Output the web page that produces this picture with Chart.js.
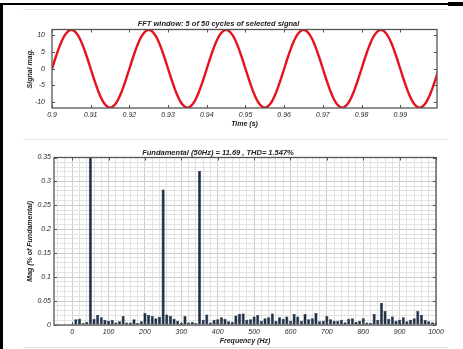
<!DOCTYPE html>
<html>
<head>
<meta charset="utf-8">
<script src="https://cdn.jsdelivr.net/npm/chart.js@4.4.1/dist/chart.umd.min.js"></script>
<style>
  html, body { margin: 0; padding: 0; background: #fff; }
  body { width: 463px; height: 349px; position: relative; overflow: hidden; }
  canvas { position: absolute; left: 0; }
  #signal { top: 0; }
  #spectrum { top: 135px; }
  .rule { position: absolute; }
</style>
</head>
<body>
<canvas id="signal" width="463" height="135"></canvas>
<canvas id="spectrum" width="463" height="214"></canvas>
<div class="rule" style="left:0;top:3px;width:3px;height:346px;background:#000"></div>
<div class="rule" style="left:0;top:3px;width:448px;height:2px;background:#000"></div>
<div class="rule" style="left:448px;top:2px;width:15px;height:4px;background:#000"></div>
<div class="rule" style="left:23px;top:9px;width:425px;height:1px;background:#e2e2e2"></div>
<div class="rule" style="left:23px;top:139px;width:425px;height:1px;background:#e6e6e6"></div>
<div class="rule" style="left:23px;top:347px;width:425px;height:1px;background:#e2e2e2"></div>
<script>
// Top plot: 5 cycles of the 50 Hz signal (sampled every 1 ms)
const timeSec = [
  0.900, 0.901, 0.902, 0.903, 0.904, 0.905, 0.906, 0.907, 0.908, 0.909,
  0.910, 0.911, 0.912, 0.913, 0.914, 0.915, 0.916, 0.917, 0.918, 0.919,
  0.920, 0.921, 0.922, 0.923, 0.924, 0.925, 0.926, 0.927, 0.928, 0.929,
  0.930, 0.931, 0.932, 0.933, 0.934, 0.935, 0.936, 0.937, 0.938, 0.939,
  0.940, 0.941, 0.942, 0.943, 0.944, 0.945, 0.946, 0.947, 0.948, 0.949,
  0.950, 0.951, 0.952, 0.953, 0.954, 0.955, 0.956, 0.957, 0.958, 0.959,
  0.960, 0.961, 0.962, 0.963, 0.964, 0.965, 0.966, 0.967, 0.968, 0.969,
  0.970, 0.971, 0.972, 0.973, 0.974, 0.975, 0.976, 0.977, 0.978, 0.979,
  0.980, 0.981, 0.982, 0.983, 0.984, 0.985, 0.986, 0.987, 0.988, 0.989,
  0.990, 0.991, 0.992, 0.993, 0.994, 0.995, 0.996, 0.997, 0.998, 0.999,
  1.000
];
const signalMag = [
  0, 3.61, 6.87, 9.46, 11.12, 11.69, 11.12, 9.46, 6.87, 3.61,
  0, -3.61, -6.87, -9.46, -11.12, -11.69, -11.12, -9.46, -6.87, -3.61,
  0, 3.61, 6.87, 9.46, 11.12, 11.69, 11.12, 9.46, 6.87, 3.61,
  0, -3.61, -6.87, -9.46, -11.12, -11.69, -11.12, -9.46, -6.87, -3.61,
  0, 3.61, 6.87, 9.46, 11.12, 11.69, 11.12, 9.46, 6.87, 3.61,
  0, -3.61, -6.87, -9.46, -11.12, -11.69, -11.12, -9.46, -6.87, -3.61,
  0, 3.61, 6.87, 9.46, 11.12, 11.69, 11.12, 9.46, 6.87, 3.61,
  0, -3.61, -6.87, -9.46, -11.12, -11.69, -11.12, -9.46, -6.87, -3.61,
  0, 3.61, 6.87, 9.46, 11.12, 11.69, 11.12, 9.46, 6.87, 3.61,
  0, -3.61, -6.87, -9.46, -11.12, -11.69, -11.12, -9.46, -6.87, -3.61,
  0
];
const timeTicks = [0.9, 0.91, 0.92, 0.93, 0.94, 0.95, 0.96, 0.97, 0.98, 0.99];
const signalTicks = [-10, -5, 0, 5, 10];

// Bottom plot: spectrum, 10 Hz bins, % of fundamental (50 Hz bar runs off the top)
const freqHz = [
  0, 10, 20, 30, 40, 50, 60, 70, 80, 90,
  100, 110, 120, 130, 140, 150, 160, 170, 180, 190,
  200, 210, 220, 230, 240, 250, 260, 270, 280, 290,
  300, 310, 320, 330, 340, 350, 360, 370, 380, 390,
  400, 410, 420, 430, 440, 450, 460, 470, 480, 490,
  500, 510, 520, 530, 540, 550, 560, 570, 580, 590,
  600, 610, 620, 630, 640, 650, 660, 670, 680, 690,
  700, 710, 720, 730, 740, 750, 760, 770, 780, 790,
  800, 810, 820, 830, 840, 850, 860, 870, 880, 890,
  900, 910, 920, 930, 940, 950, 960, 970, 980, 990,
  1000
];
const magPct = [
  0.002, 0.012, 0.013, 0.004, 0.007, 100, 0.013, 0.021, 0.016, 0.011,
  0.009, 0.011, 0.005, 0.008, 0.019, 0.005, 0.005, 0.012, 0.004, 0.008,
  0.025, 0.021, 0.019, 0.014, 0.017, 0.283, 0.022, 0.019, 0.013, 0.009,
  0.004, 0.019, 0.005, 0.007, 0.004, 0.322, 0.011, 0.022, 0.005, 0.011,
  0.012, 0.016, 0.013, 0.008, 0.007, 0.020, 0.023, 0.024, 0.011, 0.012,
  0.018, 0.021, 0.009, 0.014, 0.016, 0.024, 0.009, 0.016, 0.013, 0.018,
  0.009, 0.023, 0.018, 0.009, 0.023, 0.012, 0.014, 0.025, 0.008, 0.009,
  0.019, 0.012, 0.009, 0.009, 0.011, 0.006, 0.013, 0.014, 0.007, 0.009,
  0.014, 0.005, 0.004, 0.023, 0.011, 0.046, 0.030, 0.013, 0.018, 0.009,
  0.011, 0.016, 0.008, 0.011, 0.014, 0.029, 0.021, 0.011, 0.008, 0.006,
  0.004
];
const freqTickLabels = ['0', '100', '200', '300', '400', '500', '600', '700', '800', '900', '1000'];
const magTickLabels = ['0', '0.05', '0.1', '0.15', '0.2', '0.25', '0.3', '0.35'];

const FONT = "'Liberation Sans', Arial, sans-serif";
const tickFont = { family: FONT, size: 7, style: 'italic' };
const labelFont = { family: FONT, size: 7, style: 'italic', weight: 'bold', lineHeight: 1.2 };
const titleFont = { family: FONT, size: 7.5, style: 'italic', lineHeight: 1 };

// MATLAB-like box with inward tick marks on all four sides
const matlabBox = {
  id: 'matlabBox',
  afterDatasetsDraw(chart, args, opts) {
    const { ctx, chartArea: a, scales: { x, y } } = chart;
    ctx.save();
    ctx.strokeStyle = opts.color;
    ctx.lineWidth = 1;
    ctx.beginPath();
    x.ticks.forEach(t => {
      if (!t.label) return;
      const px = Math.round(x.getPixelForValue(t.value)) + 0.5;
      ctx.moveTo(px, a.bottom); ctx.lineTo(px, a.bottom - opts.len);
      ctx.moveTo(px, a.top); ctx.lineTo(px, a.top + opts.len);
    });
    y.ticks.forEach(t => {
      if (!t.label) return;
      const py = Math.round(y.getPixelForValue(t.value)) + 0.5;
      ctx.moveTo(a.left, py); ctx.lineTo(a.left + opts.len, py);
      ctx.moveTo(a.right, py); ctx.lineTo(a.right - opts.len, py);
    });
    ctx.stroke();
    ctx.lineWidth = opts.width;
    ctx.strokeRect(a.left, a.top, a.right - a.left, a.bottom - a.top);
    ctx.restore();
  }
};

// Signal plot
new Chart(document.getElementById('signal'), {
  type: 'line',
  data: {
    datasets: [{
      data: timeSec.map((t, i) => ({ x: t, y: signalMag[i] })),
      borderColor: '#e5131b',
      borderWidth: 2.4,
      pointRadius: 0,
      tension: 0.4,
      fill: false
    }]
  },
  options: {
    responsive: false,
    animation: false,
    devicePixelRatio: 1,
    layout: { padding: { left: 0, right: 26, top: 20, bottom: 0 } },
    plugins: {
      legend: { display: false },
      tooltip: { enabled: false },
      title: {
        display: true,
        text: 'FFT window: 5 of 50 cycles of selected signal',
        font: titleFont,
        color: '#222',
        padding: { top: 0, bottom: 2 }
      },
      matlabBox: { color: '#555', len: 3, width: 1.3 }
    },
    scales: {
      x: {
        type: 'linear',
        min: 0.9,
        max: 0.9995,
        afterBuildTicks: s => { s.ticks = timeTicks.map(v => ({ value: v })); },
        afterFit: s => { s.height = 27; },
        grid: { display: false, drawTicks: false },
        border: { display: false },
        ticks: { font: tickFont, color: '#2a2a2a', padding: 3, maxRotation: 0, autoSkip: false,
                 callback: v => String(v) },
        title: { display: true, text: 'Time (s)', font: labelFont, color: '#222',
                 padding: { top: 0, bottom: 7 } }
      },
      y: {
        min: -11.8,
        max: 11.8,
        afterBuildTicks: s => { s.ticks = signalTicks.map(v => ({ value: v })); },
        afterFit: s => { s.width = 52; },
        grid: { display: false, drawTicks: false },
        border: { display: false },
        ticks: { font: tickFont, color: '#2a2a2a', padding: 7, callback: v => String(v) },
        title: { display: true, text: 'Signal mag.', font: labelFont, color: '#222',
                 padding: { top: 26, bottom: 0 } }
      }
    }
  },
  plugins: [matlabBox]
});

// Spectrum plot
new Chart(document.getElementById('spectrum'), {
  type: 'bar',
  data: {
    datasets: [{
      data: freqHz.map((f, i) => ({ x: f, y: magPct[i] })),
      backgroundColor: '#1c3049',
      borderColor: '#0a1522',
      borderWidth: 0.5,
      barPercentage: 0.85,
      categoryPercentage: 1
    }]
  },
  options: {
    responsive: false,
    animation: false,
    devicePixelRatio: 1,
    layout: { padding: { left: 0, right: 27, top: 14, bottom: 0 } },
    plugins: {
      legend: { display: false },
      tooltip: { enabled: false },
      title: {
        display: true,
        text: 'Fundamental (50Hz) = 11.69 , THD= 1.547%',
        font: titleFont,
        color: '#222',
        padding: { top: 0, bottom: 1 }
      },
      matlabBox: { color: '#555', len: 3, width: 1.3 }
    },
    scales: {
      x: {
        type: 'linear',
        min: -50,
        max: 1000,
        offset: false,
        afterBuildTicks: s => {
          const ticks = [];
          for (let v = -40; v <= 1000; v += 20) ticks.push({ value: v });
          s.ticks = ticks;
        },
        afterFit: s => { s.height = 24; },
        grid: {
          offset: false,
          drawTicks: false,
          color: c => (c.tick && c.tick.value % 100 === 0) ? '#cccccc' : '#e2e2e2',
          lineWidth: 1
        },
        border: { display: false },
        ticks: {
          font: tickFont, color: '#2a2a2a', padding: 3, maxRotation: 0, autoSkip: false,
          callback: v => (v >= 0 && v % 100 === 0) ? freqTickLabels[v / 100] : ''
        },
        title: { display: true, text: 'Frequency (Hz)', font: labelFont, color: '#222',
                 padding: { top: 0, bottom: 4 } }
      },
      y: {
        min: 0,
        max: 0.35,
        afterBuildTicks: s => {
          const ticks = [];
          for (let i = 0; i <= 35; i++) ticks.push({ value: i / 100 });
          s.ticks = ticks;
        },
        afterFit: s => { s.width = 54; },
        grid: {
          drawTicks: false,
          color: c => (c.index % 5 === 0) ? '#cccccc' : '#e2e2e2',
          lineWidth: 1
        },
        border: { display: false },
        ticks: {
          font: tickFont, color: '#2a2a2a', padding: 3, autoSkip: false,
          callback: (v, i) => (i % 5 === 0) ? magTickLabels[i / 5] : ''
        },
        title: { display: true, text: 'Mag (% of Fundamental)', font: labelFont, color: '#222',
                 padding: { top: 26, bottom: 0 } }
      }
    }
  },
  plugins: [matlabBox]
});
</script>
</body>
</html>
